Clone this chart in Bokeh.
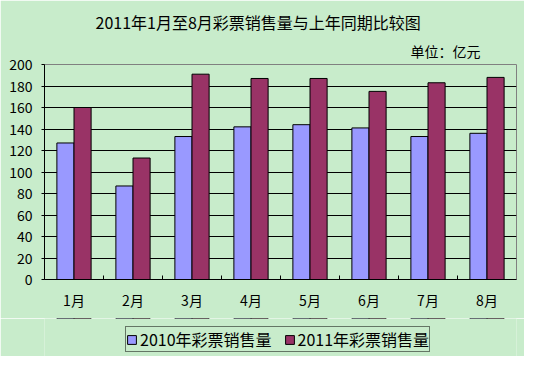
from bokeh.plotting import figure
from bokeh.layouts import column
from bokeh.models import (FactorRange, Range1d, LinearAxis, FixedTicker, Title,
                          Legend, LegendItem, ColumnDataSource)
from bokeh.transform import dodge
from bokeh.embed import file_html
from bokeh.resources import INLINE

months = ["1月", "2月", "3月", "4月", "5月", "6月", "7月", "8月"]
sales_2010 = [127, 87, 133, 142, 144, 141, 133, 136]
sales_2011 = [160, 113, 191, 187, 187, 175, 183, 188]
y_ticks = [0, 20, 40, 60, 80, 100, 120, 140, 160, 180, 200]
series_names = ["2010年彩票销售量", "2011年彩票销售量"]
title_text = "2011年1月至8月彩票销售量与上年同期比较图"
unit_text = "单位：亿元"

BG = "#C8ECCB"
C2010 = "#9999FF"
C2011 = "#993366"
FONT = "Noto Sans CJK SC"

src = ColumnDataSource(dict(month=months, s2010=sales_2010, s2011=sales_2011))

p = figure(x_range=FactorRange(factors=months, range_padding=0),
           y_range=Range1d(0, 200),
           width=524, height=318, output_backend="svg", toolbar_location=None,
           x_axis_location=None,
           min_border_left=44, min_border_right=8, min_border_top=64, min_border_bottom=39)
p.background_fill_color = BG
p.border_fill_color = BG
p.outline_line_color = "#808080"
p.outline_line_width = 1
p.title.text = ""

# x axis: labels at category centres, small inward ticks at category boundaries
xaxis = LinearAxis(ticker=FixedTicker(ticks=[i + 0.5 for i in range(len(months))],
                                      minor_ticks=list(range(1, len(months)))),
                   major_label_overrides={i + 0.5: m for i, m in enumerate(months)})
xaxis.axis_line_color = "black"
xaxis.major_tick_line_color = None
xaxis.minor_tick_line_color = "black"
xaxis.minor_tick_in = 4
xaxis.minor_tick_out = 0
xaxis.major_label_standoff = 4
xaxis.major_label_text_font = FONT
xaxis.major_label_text_font_size = "14px"
xaxis.major_label_text_color = "black"
p.add_layout(xaxis, "below")

yaxis = p.yaxis[0]
yaxis.ticker = FixedTicker(ticks=y_ticks)
yaxis.axis_line_color = "black"
yaxis.major_tick_line_color = "black"
yaxis.major_tick_in = 0
yaxis.major_tick_out = 3
yaxis.minor_tick_line_color = None
yaxis.major_label_standoff = 9
yaxis.major_label_text_font = FONT
yaxis.major_label_text_font_size = "14px"
yaxis.major_label_text_color = "black"

p.xgrid.grid_line_color = None
p.ygrid.ticker = FixedTicker(ticks=y_ticks[1:-1])
p.ygrid.grid_line_color = "black"
p.ygrid.grid_line_width = 1

p.vbar(x=dodge("month", -0.145, range=p.x_range), top="s2010", width=0.29,
       source=src, fill_color=C2010, line_color="black", line_width=1)
p.vbar(x=dodge("month", 0.145, range=p.x_range), top="s2011", width=0.29,
       source=src, fill_color=C2011, line_color="black", line_width=1)

unit_t = Title(text=unit_text, align="left", offset=366, vertical_align="top", standoff=4,
               text_font=FONT, text_font_size="14px", text_font_style="normal",
               text_color="black")
title_t = Title(text=title_text, align="left", offset=51, vertical_align="top", standoff=6,
                text_font=FONT, text_font_size="16px", text_font_style="normal",
                text_color="black")
top_gap = Title(text=" ", text_font_size="1px", standoff=1, text_color=None)
p.add_layout(unit_t, "above")
p.add_layout(title_t, "above")
p.add_layout(top_gap, "above")

# legend strip under the chart (its bars lie outside its visible y range)
lg = figure(width=524, height=38, output_backend="svg", toolbar_location=None,
            x_range=FactorRange(factors=months, range_padding=0), y_range=Range1d(-2, -1),
            x_axis_location=None, y_axis_location=None,
            min_border_left=0, min_border_right=0, min_border_top=0, min_border_bottom=0)
lg.background_fill_color = BG
lg.border_fill_color = BG
lg.outline_line_color = None
lg.grid.grid_line_color = None
lg.title.text = ""
e1 = lg.vbar(x=dodge("month", -0.145, range=lg.x_range), top="s2010", width=0.29,
             source=src, fill_color=C2010, line_color="black", line_width=1)
e2 = lg.vbar(x=dodge("month", 0.145, range=lg.x_range), top="s2011", width=0.29,
             source=src, fill_color=C2011, line_color="black", line_width=1)

legend = Legend(items=[LegendItem(label=series_names[0], renderers=[e1], index=0),
                       LegendItem(label=series_names[1], renderers=[e2], index=0)],
                orientation="horizontal", location=(81, 4))
legend.label_text_font = FONT
legend.label_text_font_size = "16px"
legend.label_text_color = "black"
legend.glyph_width = 11
legend.glyph_height = 11
legend.label_height = 18
legend.label_standoff = 3
legend.spacing = 12
legend.padding = 0
legend.margin = 0
legend.border_line_color = "black"
legend.border_line_width = 1
legend.background_fill_color = BG
legend.background_fill_alpha = 1
lg.add_layout(legend, "center")

layout = column(p, lg, spacing=0)
open("out.html", "w").write(file_html(layout, INLINE))
